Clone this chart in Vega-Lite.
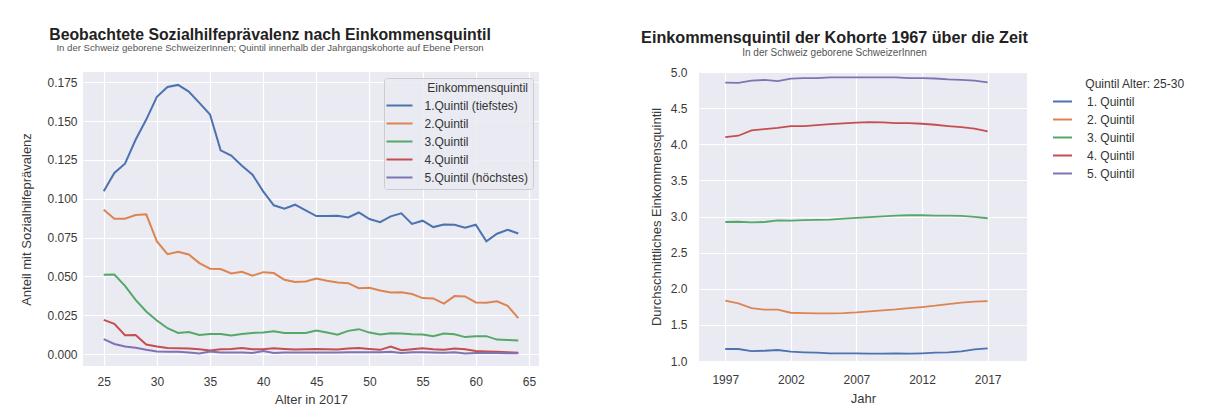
{
 "$schema": "https://vega.github.io/schema/vega-lite/v6.json",
 "background": "white",
 "padding": {"left": 20, "top": 26, "right": 5, "bottom": 5},
 "config": {
  "font": "Liberation Sans",
  "view": {"fill": "#EAEAF2", "stroke": null},
  "axis": {"grid": true, "gridColor": "#ffffff", "gridWidth": 1.2, "domain": false, "ticks": false, "labelPadding": 6, "labelFontSize": 12, "labelColor": "#3a3a3a", "titleFontSize": 13, "titleFontWeight": "normal", "titleColor": "#3a3a3a", "labelFont": "Liberation Sans", "titleFont": "Liberation Sans"},
  "title": {"fontWeight": "bold", "color": "#222222", "subtitleColor": "#555555", "anchor": "middle", "frame": "group", "font": "Liberation Sans", "subtitleFont": "Liberation Sans"},
  "legend": {"titleFontSize": 12, "titleFontWeight": "normal", "titleColor": "#333333", "labelFontSize": 12, "labelColor": "#333333", "symbolType": "stroke", "symbolStrokeWidth": 2, "titleFont": "Liberation Sans", "labelFont": "Liberation Sans"},
  "concat": {"spacing": 102}
 },
 "datasets": {
  "left": [
   {"age":25,"q":"1.Quintil (tiefstes)","v":0.1048},{"age":26,"q":"1.Quintil (tiefstes)","v":0.1166},{"age":27,"q":"1.Quintil (tiefstes)","v":0.1226},{"age":28,"q":"1.Quintil (tiefstes)","v":0.138},{"age":29,"q":"1.Quintil (tiefstes)","v":0.151},{"age":30,"q":"1.Quintil (tiefstes)","v":0.1656},{"age":31,"q":"1.Quintil (tiefstes)","v":0.172},{"age":32,"q":"1.Quintil (tiefstes)","v":0.1733},{"age":33,"q":"1.Quintil (tiefstes)","v":0.169},{"age":34,"q":"1.Quintil (tiefstes)","v":0.1617},{"age":35,"q":"1.Quintil (tiefstes)","v":0.1542},{"age":36,"q":"1.Quintil (tiefstes)","v":0.1312},{"age":37,"q":"1.Quintil (tiefstes)","v":0.1278},{"age":38,"q":"1.Quintil (tiefstes)","v":0.1213},{"age":39,"q":"1.Quintil (tiefstes)","v":0.1155},{"age":40,"q":"1.Quintil (tiefstes)","v":0.1048},{"age":41,"q":"1.Quintil (tiefstes)","v":0.0958},{"age":42,"q":"1.Quintil (tiefstes)","v":0.0936},{"age":43,"q":"1.Quintil (tiefstes)","v":0.0962},{"age":44,"q":"1.Quintil (tiefstes)","v":0.0925},{"age":45,"q":"1.Quintil (tiefstes)","v":0.0889},{"age":46,"q":"1.Quintil (tiefstes)","v":0.089},{"age":47,"q":"1.Quintil (tiefstes)","v":0.0891},{"age":48,"q":"1.Quintil (tiefstes)","v":0.088},{"age":49,"q":"1.Quintil (tiefstes)","v":0.0912},{"age":50,"q":"1.Quintil (tiefstes)","v":0.087},{"age":51,"q":"1.Quintil (tiefstes)","v":0.085},{"age":52,"q":"1.Quintil (tiefstes)","v":0.0887},{"age":53,"q":"1.Quintil (tiefstes)","v":0.0906},{"age":54,"q":"1.Quintil (tiefstes)","v":0.0838},{"age":55,"q":"1.Quintil (tiefstes)","v":0.0859},{"age":56,"q":"1.Quintil (tiefstes)","v":0.0818},{"age":57,"q":"1.Quintil (tiefstes)","v":0.0835},{"age":58,"q":"1.Quintil (tiefstes)","v":0.0833},{"age":59,"q":"1.Quintil (tiefstes)","v":0.0814},{"age":60,"q":"1.Quintil (tiefstes)","v":0.0833},{"age":61,"q":"1.Quintil (tiefstes)","v":0.0726},{"age":62,"q":"1.Quintil (tiefstes)","v":0.0775},{"age":63,"q":"1.Quintil (tiefstes)","v":0.0801},{"age":64,"q":"1.Quintil (tiefstes)","v":0.0777},
   {"age":25,"q":"2.Quintil","v":0.093},{"age":26,"q":"2.Quintil","v":0.0872},{"age":27,"q":"2.Quintil","v":0.0872},{"age":28,"q":"2.Quintil","v":0.0896},{"age":29,"q":"2.Quintil","v":0.09},{"age":30,"q":"2.Quintil","v":0.0726},{"age":31,"q":"2.Quintil","v":0.0644},{"age":32,"q":"2.Quintil","v":0.0659},{"age":33,"q":"2.Quintil","v":0.0642},{"age":34,"q":"2.Quintil","v":0.0586},{"age":35,"q":"2.Quintil","v":0.055},{"age":36,"q":"2.Quintil","v":0.0548},{"age":37,"q":"2.Quintil","v":0.0519},{"age":38,"q":"2.Quintil","v":0.053},{"age":39,"q":"2.Quintil","v":0.0505},{"age":40,"q":"2.Quintil","v":0.0528},{"age":41,"q":"2.Quintil","v":0.0522},{"age":42,"q":"2.Quintil","v":0.0479},{"age":43,"q":"2.Quintil","v":0.0464},{"age":44,"q":"2.Quintil","v":0.0468},{"age":45,"q":"2.Quintil","v":0.0487},{"age":46,"q":"2.Quintil","v":0.0472},{"age":47,"q":"2.Quintil","v":0.0462},{"age":48,"q":"2.Quintil","v":0.0457},{"age":49,"q":"2.Quintil","v":0.0425},{"age":50,"q":"2.Quintil","v":0.0427},{"age":51,"q":"2.Quintil","v":0.041},{"age":52,"q":"2.Quintil","v":0.0397},{"age":53,"q":"2.Quintil","v":0.0399},{"age":54,"q":"2.Quintil","v":0.0387},{"age":55,"q":"2.Quintil","v":0.0361},{"age":56,"q":"2.Quintil","v":0.0359},{"age":57,"q":"2.Quintil","v":0.0326},{"age":58,"q":"2.Quintil","v":0.0374},{"age":59,"q":"2.Quintil","v":0.0372},{"age":60,"q":"2.Quintil","v":0.0333},{"age":61,"q":"2.Quintil","v":0.0331},{"age":62,"q":"2.Quintil","v":0.034},{"age":63,"q":"2.Quintil","v":0.0311},{"age":64,"q":"2.Quintil","v":0.0232},
   {"age":25,"q":"3.Quintil","v":0.0511},{"age":26,"q":"3.Quintil","v":0.0513},{"age":27,"q":"3.Quintil","v":0.044},{"age":28,"q":"3.Quintil","v":0.035},{"age":29,"q":"3.Quintil","v":0.0275},{"age":30,"q":"3.Quintil","v":0.0217},{"age":31,"q":"3.Quintil","v":0.0167},{"age":32,"q":"3.Quintil","v":0.0137},{"age":33,"q":"3.Quintil","v":0.0143},{"age":34,"q":"3.Quintil","v":0.0124},{"age":35,"q":"3.Quintil","v":0.013},{"age":36,"q":"3.Quintil","v":0.013},{"age":37,"q":"3.Quintil","v":0.012},{"age":38,"q":"3.Quintil","v":0.013},{"age":39,"q":"3.Quintil","v":0.0137},{"age":40,"q":"3.Quintil","v":0.0139},{"age":41,"q":"3.Quintil","v":0.0148},{"age":42,"q":"3.Quintil","v":0.0137},{"age":43,"q":"3.Quintil","v":0.0137},{"age":44,"q":"3.Quintil","v":0.0137},{"age":45,"q":"3.Quintil","v":0.0152},{"age":46,"q":"3.Quintil","v":0.0139},{"age":47,"q":"3.Quintil","v":0.0126},{"age":48,"q":"3.Quintil","v":0.015},{"age":49,"q":"3.Quintil","v":0.0161},{"age":50,"q":"3.Quintil","v":0.0139},{"age":51,"q":"3.Quintil","v":0.0127},{"age":52,"q":"3.Quintil","v":0.0135},{"age":53,"q":"3.Quintil","v":0.0133},{"age":54,"q":"3.Quintil","v":0.0129},{"age":55,"q":"3.Quintil","v":0.0127},{"age":56,"q":"3.Quintil","v":0.0116},{"age":57,"q":"3.Quintil","v":0.0133},{"age":58,"q":"3.Quintil","v":0.0128},{"age":59,"q":"3.Quintil","v":0.011},{"age":60,"q":"3.Quintil","v":0.0116},{"age":61,"q":"3.Quintil","v":0.0116},{"age":62,"q":"3.Quintil","v":0.0094},{"age":63,"q":"3.Quintil","v":0.0092},{"age":64,"q":"3.Quintil","v":0.0088},
   {"age":25,"q":"4.Quintil","v":0.0221},{"age":26,"q":"4.Quintil","v":0.0195},{"age":27,"q":"4.Quintil","v":0.0122},{"age":28,"q":"4.Quintil","v":0.0124},{"age":29,"q":"4.Quintil","v":0.0062},{"age":30,"q":"4.Quintil","v":0.0049},{"age":31,"q":"4.Quintil","v":0.004},{"age":32,"q":"4.Quintil","v":0.0038},{"age":33,"q":"4.Quintil","v":0.0036},{"age":34,"q":"4.Quintil","v":0.0032},{"age":35,"q":"4.Quintil","v":0.0023},{"age":36,"q":"4.Quintil","v":0.0032},{"age":37,"q":"4.Quintil","v":0.0034},{"age":38,"q":"4.Quintil","v":0.004},{"age":39,"q":"4.Quintil","v":0.0032},{"age":40,"q":"4.Quintil","v":0.0032},{"age":41,"q":"4.Quintil","v":0.0038},{"age":42,"q":"4.Quintil","v":0.0034},{"age":43,"q":"4.Quintil","v":0.003},{"age":44,"q":"4.Quintil","v":0.0032},{"age":45,"q":"4.Quintil","v":0.0034},{"age":46,"q":"4.Quintil","v":0.0032},{"age":47,"q":"4.Quintil","v":0.003},{"age":48,"q":"4.Quintil","v":0.0036},{"age":49,"q":"4.Quintil","v":0.004},{"age":50,"q":"4.Quintil","v":0.0034},{"age":51,"q":"4.Quintil","v":0.0028},{"age":52,"q":"4.Quintil","v":0.0049},{"age":53,"q":"4.Quintil","v":0.0026},{"age":54,"q":"4.Quintil","v":0.0032},{"age":55,"q":"4.Quintil","v":0.0038},{"age":56,"q":"4.Quintil","v":0.0032},{"age":57,"q":"4.Quintil","v":0.0028},{"age":58,"q":"4.Quintil","v":0.0036},{"age":59,"q":"4.Quintil","v":0.0032},{"age":60,"q":"4.Quintil","v":0.002},{"age":61,"q":"4.Quintil","v":0.0018},{"age":62,"q":"4.Quintil","v":0.0016},{"age":63,"q":"4.Quintil","v":0.0013},{"age":64,"q":"4.Quintil","v":0.001},
   {"age":25,"q":"5.Quintil (höchstes)","v":0.0097},{"age":26,"q":"5.Quintil (höchstes)","v":0.0066},{"age":27,"q":"5.Quintil (höchstes)","v":0.0049},{"age":28,"q":"5.Quintil (höchstes)","v":0.0042},{"age":29,"q":"5.Quintil (höchstes)","v":0.0028},{"age":30,"q":"5.Quintil (höchstes)","v":0.0017},{"age":31,"q":"5.Quintil (höchstes)","v":0.0015},{"age":32,"q":"5.Quintil (höchstes)","v":0.0015},{"age":33,"q":"5.Quintil (höchstes)","v":0.0011},{"age":34,"q":"5.Quintil (höchstes)","v":0.0004},{"age":35,"q":"5.Quintil (höchstes)","v":0.0017},{"age":36,"q":"5.Quintil (höchstes)","v":0.0011},{"age":37,"q":"5.Quintil (höchstes)","v":0.0011},{"age":38,"q":"5.Quintil (höchstes)","v":0.0011},{"age":39,"q":"5.Quintil (höchstes)","v":0.0008},{"age":40,"q":"5.Quintil (höchstes)","v":0.0021},{"age":41,"q":"5.Quintil (höchstes)","v":0.0008},{"age":42,"q":"5.Quintil (höchstes)","v":0.0011},{"age":43,"q":"5.Quintil (höchstes)","v":0.0011},{"age":44,"q":"5.Quintil (höchstes)","v":0.0011},{"age":45,"q":"5.Quintil (höchstes)","v":0.0011},{"age":46,"q":"5.Quintil (höchstes)","v":0.0011},{"age":47,"q":"5.Quintil (höchstes)","v":0.0011},{"age":48,"q":"5.Quintil (höchstes)","v":0.0012},{"age":49,"q":"5.Quintil (höchstes)","v":0.0012},{"age":50,"q":"5.Quintil (höchstes)","v":0.0012},{"age":51,"q":"5.Quintil (höchstes)","v":0.0013},{"age":52,"q":"5.Quintil (höchstes)","v":0.0015},{"age":53,"q":"5.Quintil (höchstes)","v":0.0008},{"age":54,"q":"5.Quintil (höchstes)","v":0.0012},{"age":55,"q":"5.Quintil (höchstes)","v":0.0012},{"age":56,"q":"5.Quintil (höchstes)","v":0.0011},{"age":57,"q":"5.Quintil (höchstes)","v":0.0009},{"age":58,"q":"5.Quintil (höchstes)","v":0.0012},{"age":59,"q":"5.Quintil (höchstes)","v":0.0005},{"age":60,"q":"5.Quintil (höchstes)","v":0.0007},{"age":61,"q":"5.Quintil (höchstes)","v":0.0008},{"age":62,"q":"5.Quintil (höchstes)","v":0.0007},{"age":63,"q":"5.Quintil (höchstes)","v":0.0006},{"age":64,"q":"5.Quintil (höchstes)","v":0.0006}
  ],
  "right": [
   {"year":1997,"q":"1. Quintil","v":1.166},{"year":1998,"q":"1. Quintil","v":1.166},{"year":1999,"q":"1. Quintil","v":1.138},{"year":2000,"q":"1. Quintil","v":1.142},{"year":2001,"q":"1. Quintil","v":1.152},{"year":2002,"q":"1. Quintil","v":1.129},{"year":2003,"q":"1. Quintil","v":1.12},{"year":2004,"q":"1. Quintil","v":1.115},{"year":2005,"q":"1. Quintil","v":1.106},{"year":2006,"q":"1. Quintil","v":1.106},{"year":2007,"q":"1. Quintil","v":1.106},{"year":2008,"q":"1. Quintil","v":1.101},{"year":2009,"q":"1. Quintil","v":1.101},{"year":2010,"q":"1. Quintil","v":1.106},{"year":2011,"q":"1. Quintil","v":1.101},{"year":2012,"q":"1. Quintil","v":1.106},{"year":2013,"q":"1. Quintil","v":1.115},{"year":2014,"q":"1. Quintil","v":1.12},{"year":2015,"q":"1. Quintil","v":1.133},{"year":2016,"q":"1. Quintil","v":1.161},{"year":2017,"q":"1. Quintil","v":1.175},
   {"year":1997,"q":"2. Quintil","v":1.835},{"year":1998,"q":"2. Quintil","v":1.798},{"year":1999,"q":"2. Quintil","v":1.733},{"year":2000,"q":"2. Quintil","v":1.71},{"year":2001,"q":"2. Quintil","v":1.71},{"year":2002,"q":"2. Quintil","v":1.668},{"year":2003,"q":"2. Quintil","v":1.664},{"year":2004,"q":"2. Quintil","v":1.66},{"year":2005,"q":"2. Quintil","v":1.66},{"year":2006,"q":"2. Quintil","v":1.664},{"year":2007,"q":"2. Quintil","v":1.673},{"year":2008,"q":"2. Quintil","v":1.687},{"year":2009,"q":"2. Quintil","v":1.701},{"year":2010,"q":"2. Quintil","v":1.714},{"year":2011,"q":"2. Quintil","v":1.733},{"year":2012,"q":"2. Quintil","v":1.747},{"year":2013,"q":"2. Quintil","v":1.765},{"year":2014,"q":"2. Quintil","v":1.788},{"year":2015,"q":"2. Quintil","v":1.807},{"year":2016,"q":"2. Quintil","v":1.821},{"year":2017,"q":"2. Quintil","v":1.83},
   {"year":1997,"q":"3. Quintil","v":2.924},{"year":1998,"q":"3. Quintil","v":2.927},{"year":1999,"q":"3. Quintil","v":2.92},{"year":2000,"q":"3. Quintil","v":2.924},{"year":2001,"q":"3. Quintil","v":2.947},{"year":2002,"q":"3. Quintil","v":2.943},{"year":2003,"q":"3. Quintil","v":2.95},{"year":2004,"q":"3. Quintil","v":2.954},{"year":2005,"q":"3. Quintil","v":2.958},{"year":2006,"q":"3. Quintil","v":2.971},{"year":2007,"q":"3. Quintil","v":2.98},{"year":2008,"q":"3. Quintil","v":2.99},{"year":2009,"q":"3. Quintil","v":3.003},{"year":2010,"q":"3. Quintil","v":3.012},{"year":2011,"q":"3. Quintil","v":3.017},{"year":2012,"q":"3. Quintil","v":3.017},{"year":2013,"q":"3. Quintil","v":3.012},{"year":2014,"q":"3. Quintil","v":3.012},{"year":2015,"q":"3. Quintil","v":3.008},{"year":2016,"q":"3. Quintil","v":2.994},{"year":2017,"q":"3. Quintil","v":2.976},
   {"year":1997,"q":"4. Quintil","v":4.1},{"year":1998,"q":"4. Quintil","v":4.118},{"year":1999,"q":"4. Quintil","v":4.193},{"year":2000,"q":"4. Quintil","v":4.21},{"year":2001,"q":"4. Quintil","v":4.228},{"year":2002,"q":"4. Quintil","v":4.252},{"year":2003,"q":"4. Quintil","v":4.252},{"year":2004,"q":"4. Quintil","v":4.265},{"year":2005,"q":"4. Quintil","v":4.279},{"year":2006,"q":"4. Quintil","v":4.289},{"year":2007,"q":"4. Quintil","v":4.298},{"year":2008,"q":"4. Quintil","v":4.307},{"year":2009,"q":"4. Quintil","v":4.302},{"year":2010,"q":"4. Quintil","v":4.293},{"year":2011,"q":"4. Quintil","v":4.293},{"year":2012,"q":"4. Quintil","v":4.284},{"year":2013,"q":"4. Quintil","v":4.27},{"year":2014,"q":"4. Quintil","v":4.252},{"year":2015,"q":"4. Quintil","v":4.238},{"year":2016,"q":"4. Quintil","v":4.215},{"year":2017,"q":"4. Quintil","v":4.179},
   {"year":1997,"q":"5. Quintil","v":4.852},{"year":1998,"q":"5. Quintil","v":4.85},{"year":1999,"q":"5. Quintil","v":4.88},{"year":2000,"q":"5. Quintil","v":4.89},{"year":2001,"q":"5. Quintil","v":4.875},{"year":2002,"q":"5. Quintil","v":4.907},{"year":2003,"q":"5. Quintil","v":4.915},{"year":2004,"q":"5. Quintil","v":4.915},{"year":2005,"q":"5. Quintil","v":4.926},{"year":2006,"q":"5. Quintil","v":4.926},{"year":2007,"q":"5. Quintil","v":4.926},{"year":2008,"q":"5. Quintil","v":4.926},{"year":2009,"q":"5. Quintil","v":4.926},{"year":2010,"q":"5. Quintil","v":4.926},{"year":2011,"q":"5. Quintil","v":4.915},{"year":2012,"q":"5. Quintil","v":4.915},{"year":2013,"q":"5. Quintil","v":4.91},{"year":2014,"q":"5. Quintil","v":4.897},{"year":2015,"q":"5. Quintil","v":4.89},{"year":2016,"q":"5. Quintil","v":4.88},{"year":2017,"q":"5. Quintil","v":4.857}
  ]
 },
 "hconcat": [
  {
   "width": 456,
   "height": 294,
   "title": {"text": "Beobachtete Sozialhilfeprävalenz nach Einkommensquintil", "subtitle": "In der Schweiz geborene SchweizerInnen; Quintil innerhalb der Jahrgangskohorte auf Ebene Person", "dx": -41, "fontSize": 15.8, "subtitleFontSize": 9.6, "subtitlePadding": 0, "offset": 18},
   "data": {"name": "left"},
   "mark": {"type": "line", "strokeWidth": 2, "clip": true},
   "encoding": {
    "x": {"field": "age", "type": "quantitative", "scale": {"domain": [23.05, 65.95], "nice": false, "zero": false}, "axis": {"values": [25, 30, 35, 40, 45, 50, 55, 60, 65], "title": "Alter in 2017", "labelPadding": 10, "titlePadding": 6}},
    "y": {"field": "v", "type": "quantitative", "scale": {"domain": [-0.0076, 0.1816], "nice": false, "zero": false}, "axis": {"values": [0, 0.025, 0.05, 0.075, 0.1, 0.125, 0.15, 0.175], "format": ".3f", "title": "Anteil mit Sozialhilfeprävalenz", "titlePadding": 13}},
    "color": {"field": "q", "type": "nominal", "sort": null,
     "scale": {"domain": ["1.Quintil (tiefstes)", "2.Quintil", "3.Quintil", "4.Quintil", "5.Quintil (höchstes)"], "range": ["#4C72B0", "#DD8452", "#55A868", "#C44E52", "#8172B3"]},
     "legend": {"title": "Einkommensquintil", "orient": "top-right", "offset": 6, "titleAnchor": "end", "symbolType": "M-1.37,0H1.37", "symbolSize": 361, "labelOffset": 14.5, "padding": 5, "fillColor": "rgba(234,234,242,0.85)", "strokeColor": "#cccccc", "cornerRadius": 3, "rowPadding": 1, "titlePadding": 0}}
   }
  },
  {
   "width": 328,
   "height": 289,
   "title": {"text": "Einkommensquintil der Kohorte 1967 über die Zeit", "subtitle": "In der Schweiz geborene SchweizerInnen", "dx": -28.5, "fontSize": 16.2, "subtitleFontSize": 10, "subtitlePadding": 1.5, "offset": 8},
   "data": {"name": "right"},
   "mark": {"type": "line", "strokeWidth": 1.8, "clip": true},
   "encoding": {
    "x": {"field": "year", "type": "quantitative", "scale": {"domain": [1995, 2020], "nice": false, "zero": false}, "axis": {"values": [1997, 2002, 2007, 2012, 2017], "format": "d", "title": "Jahr", "labelPadding": 13, "titlePadding": 7}},
    "y": {"field": "v", "type": "quantitative", "scale": {"domain": [1, 5], "nice": false, "zero": false}, "axis": {"values": [1, 1.5, 2, 2.5, 3, 3.5, 4, 4.5, 5], "format": ".1f", "title": "Durchschnittliches Einkommensquintil", "labelPadding": 12, "titlePadding": 7}},
    "color": {"field": "q", "type": "nominal", "sort": null,
     "scale": {"domain": ["1. Quintil", "2. Quintil", "3. Quintil", "4. Quintil", "5. Quintil"], "range": ["#4C72B0", "#DD8452", "#55A868", "#C44E52", "#8172B3"]},
     "legend": {"title": "\u200b\u00a0\u00a0\u00a0\u00a0\u00a0\u00a0\u00a0\u00a0\u00a0\u00a0Quintil Alter: 25-30", "orient": "right", "offset": 18, "padding": 7, "symbolSize": 361, "labelOffset": 14, "rowPadding": 1, "titlePadding": 0}}
   }
  }
 ],
 "resolve": {"scale": {"color": "independent"}, "legend": {"color": "independent"}}
}
